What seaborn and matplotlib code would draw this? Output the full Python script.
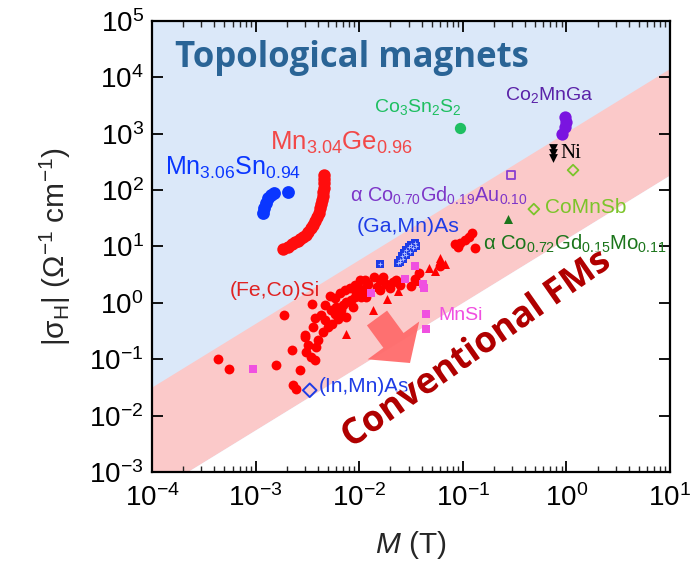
import numpy as np
import pandas as pd
import matplotlib
matplotlib.use("Agg")
import matplotlib.pyplot as plt
import matplotlib.patches as mpatches
import matplotlib.patheffects as pe
from matplotlib.ticker import LogLocator, NullLocator, NullFormatter
import seaborn as sns

# ---------------- data ----------------
mn3sn_M = [1.18e-3, 1.20e-3, 1.25e-3, 1.32e-3, 1.42e-3, 1.49e-3, 2.05e-3]
mn3sn_s = [39.6, 47.3, 59.6, 71.1, 81.5, 87.3, 93.4]

mn3ge_M = [1.84e-3, 2.04e-3, 2.26e-3, 2.42e-3, 2.56e-3, 2.70e-3, 2.87e-3, 3.04e-3,
           3.21e-3, 3.40e-3, 3.58e-3, 3.77e-3, 3.94e-3, 4.09e-3, 4.22e-3, 4.31e-3,
           4.41e-3, 4.48e-3, 4.51e-3, 4.54e-3, 4.57e-3, 4.61e-3, 4.61e-3]
mn3ge_s = [8.85, 9.86, 11.0, 11.8, 12.6, 13.7, 14.9, 16.3, 18.2, 20.9, 23.9, 28.2,
           33.6, 39.6, 47.3, 55.7, 66.4, 78.2, 93.4, 110, 131, 155, 185]

co3sn2s2_M = [0.095]
co3sn2s2_s = [1245]

co2mnga_M = [0.98, 1.0, 0.966, 0.912]
co2mnga_s = [2004, 1633, 1295, 986]

ni_M = [0.75, 0.75, 0.75]
ni_s = [550, 448, 365]

comnsb_M = [1.16, 0.485]
comnsb_s = [226, 46]

cogdau_M = [0.291]
cogdau_s = [185]

cogdmo_M = [0.274]
cogdmo_s = [30.6]

gamnas_M = [0.016, 0.0237, 0.0250, 0.0261, 0.0273, 0.0286, 0.0301, 0.0319, 0.0344,
            0.0356, 0.0331, 0.0308, 0.0286, 0.0265, 0.0246]
gamnas_s = [4.99, 5.20, 5.87, 6.73, 7.72, 8.61, 9.60, 10.6, 11.6,
            10.4, 9.33, 8.15, 7.01, 6.04, 5.27]

mnsi_M = [9.42e-4, 0.0131, 0.0275, 0.0344, 0.0414, 0.0423, 0.0439, 0.0446]
mnsi_s = [0.0682, 1.51, 2.70, 4.48, 2.20, 1.80, 0.629, 0.350]

inmnas_M = [3.33e-3]
inmnas_s = [0.0282]

tri_M = [7.41e-3, 0.0136, 0.0186, 0.0237, 0.0365, 0.0473, 0.0536, 0.0608, 0.0670]
tri_s = [0.286, 0.762, 1.18, 1.63, 2.46, 4.24, 3.70, 6.21, 4.99]

fecosi_M = [4.33e-4, 5.52e-4, 1.56e-3, 1.87e-3, 2.26e-3, 2.70e-3, 2.30e-3, 2.47e-3, 2.97e-3, 3.09e-3,
            3.45e-3, 3.72e-3, 3.58e-3, 3.53e-3, 4.31e-3, 4.64e-3, 5.19e-3, 5.38e-3, 5.51e-3, 5.80e-3,
            6.01e-3, 6.58e-3, 6.73e-3, 6.98e-3, 7.52e-3, 8.10e-3, 8.40e-3, 9.05e-3, 9.39e-3, 9.75e-3,
            0.0101, 0.0105, 0.0109, 0.0116, 0.0122, 0.0138, 0.0147, 0.0158, 0.0170, 0.0183,
            0.0197, 0.0212, 0.0229, 0.0246, 0.0319, 0.0344, 0.0378, 4.48e-3, 4.00e-3, 3.21e-3,
            3.85e-3, 5.00e-3, 6.24e-3, 8.71e-3, 7.52e-3, 0.0117, 0.0158, 0.0838, 0.0936, 0.104,
            0.115, 0.123, 0.131, 0.0901, 0.0608,
            4.64e-3, 5.80e-3, 7.24e-3, 3.72e-3, 9.05e-3, 0.0113, 2.97e-3, 6.49e-3]
fecosi_s = [0.103, 0.0682, 0.0782, 0.604, 0.144, 0.0638, 0.0345, 0.0301, 0.249, 0.135,
            0.110, 0.0959, 0.375, 0.946, 0.604, 0.492, 1.31, 0.741, 0.430, 0.647,
            0.849, 1.47, 0.741, 0.910, 1.04, 1.80, 1.11, 1.28, 1.57, 1.92,
            2.59, 1.28, 1.57, 1.80, 2.20, 2.90, 1.92, 2.52, 2.90, 2.20,
            1.80, 2.36, 2.52, 2.06, 1.98, 2.70, 3.32, 0.306, 0.217, 0.177,
            0.166, 0.375, 0.527, 0.849, 0.564, 1.28, 1.68, 11.0, 11.6, 12.9,
            14.9, 17.0, 9.47, 9.86, 4.48,
            0.910, 1.21, 1.68, 0.535, 2.06, 2.52, 0.267, 0.682]

# ---------------- style ----------------
sns.set_theme(style="ticks")
plt.rcParams["font.family"] = ["Liberation Sans", "DejaVu Sans"]
plt.rcParams["mathtext.fontset"] = "custom"
plt.rcParams["mathtext.rm"] = "Liberation Sans"
plt.rcParams["mathtext.it"] = "Liberation Sans:italic"
plt.rcParams["mathtext.bf"] = "Liberation Sans:bold"
plt.rcParams["axes.linewidth"] = 1.6

fig = plt.figure(figsize=(6.95, 5.66), dpi=100)
ax = fig.add_axes([0.2187, 0.166, 0.7453, 0.797])
ax.set_xscale("log")
ax.set_yscale("log")
ax.set_xlim(1e-4, 10)
ax.set_ylim(1e-3, 1e5)
ax.set_facecolor("#dbe8f9")

# pink band of conventional FMs
bx = np.array([1e-4, 10.0])
upper = 10 ** (1.13 * (np.log10(bx) - 1) + 4.16)
lower = 10 ** (1.13 * (np.log10(bx) - 1) + 2.27)
ax.fill_between(bx, lower, upper, color="#fbc9c9", lw=0, zorder=0)
ax.fill_between(bx, 1e-6, lower, color="white", lw=0, zorder=0)


def scat(M, s, marker, color, size, open_=False, lw=1.3, z=3):
    sns.scatterplot(x=M, y=s, ax=ax, marker=marker, s=size, color=color,
                    linewidth=0, zorder=z, legend=False)
    coll = ax.collections[-1]
    if open_:
        coll.set_facecolor("none")
        coll.set_edgecolor(color)
        coll.set_linewidth(lw)
    return coll


scat(fecosi_M, fecosi_s, "o", "#ff0000", 50)
scat(tri_M, tri_s, "^", "#ff0000", 42)
scat(mnsi_M, mnsi_s, "s", "#f050e0", 28)
scat(gamnas_M, gamnas_s, "s", "#1e3ce6", 26)
# checkered texture of the (Ga,Mn)As squares
tex = scat(gamnas_M, gamnas_s, "+", "#b9c6ff", 8, z=3.5)
tex.set_edgecolor("#b9c6ff")
tex.set_linewidth(0.6)
scat(inmnas_M, inmnas_s, "D", "#1e3ce6", 48, open_=True, lw=1.4)
scat(mn3sn_M, mn3sn_s, "o", "#0a36ff", 85)
scat(mn3ge_M, mn3ge_s, "o", "#ff0d0d", 80)
scat(co3sn2s2_M, co3sn2s2_s, "o", "#1fbf62", 66)
scat(co2mnga_M, co2mnga_s, "o", "#7a14e0", 78)
scat(ni_M, ni_s, "v", "#000000", 40)
scat(comnsb_M, comnsb_s, "D", "#7cc42a", 30, open_=True, lw=1.3)
scat(cogdau_M, cogdau_s, "s", "#8a3fd0", 28, open_=True, lw=1.3)
scat(cogdmo_M, cogdmo_s, "^", "#1b751b", 42)

# axes styling
ax.xaxis.set_major_locator(LogLocator(base=10, numticks=20))
ax.xaxis.set_minor_locator(LogLocator(base=10, subs=np.arange(2, 10), numticks=20))
ax.xaxis.set_minor_formatter(NullFormatter())
ax.yaxis.set_major_locator(LogLocator(base=10, numticks=20))
ax.yaxis.set_minor_locator(NullLocator())
ax.tick_params(which="major", direction="in", length=8, width=1.3, top=True, right=True,
               labelsize=20, colors="black")
ax.tick_params(axis="x", which="major", pad=9)
ax.tick_params(axis="y", which="major", pad=6)
ax.tick_params(which="minor", direction="in", length=4, width=1.0, top=True, right=True)
for sp in ax.spines.values():
    sp.set_color("black")
    sp.set_zorder(5)

ax.set_xlabel(r"$M$ (T)", fontsize=21.5, labelpad=12)
ax.set_ylabel(r"|σ$_{\rm H}$| (Ω$^{-1}$ cm$^{-1}$)", fontsize=21.5, labelpad=12)

# text annotations
T = ax.transAxes
ax.text(0.044, 0.899, "Topological magnets", transform=T, fontsize=25, fontweight="bold",
        family="Open Sans", color="#2a6496", va="baseline", zorder=6)
ax.text(0.025, 0.659, r"Mn$_{3.06}$Sn$_{0.94}$", transform=T, fontsize=18, color="#0a36ff",
        va="baseline")
ax.text(0.228, 0.714, r"Mn$_{3.04}$Ge$_{0.96}$", transform=T, fontsize=18.5, color="#f24848",
        va="baseline")
ax.text(0.429, 0.798, r"Co$_3$Sn$_2$S$_2$", transform=T, fontsize=14, color="#1fbf62",
        va="baseline")
ax.text(0.681, 0.825, r"Co$_2$MnGa", transform=T, fontsize=14, color="#5a22a8",
        va="baseline")
ax.text(0.788, 0.696, "Ni", transform=T, fontsize=15, color="black", family="Liberation Serif",
        va="baseline")
ax.text(0.759, 0.574, "CoMnSb", transform=T, fontsize=15, color="#7cc42a", va="baseline")
ax.text(0.382, 0.599, r"α Co$_{0.70}$Gd$_{0.19}$Au$_{0.10}$", transform=T, fontsize=14.3,
        color="#7d35c8", va="baseline")
ax.text(0.396, 0.532, "(Ga,Mn)As", transform=T, fontsize=15.3, color="#1e3ce6", va="baseline")
ax.text(0.639, 0.492, r"α Co$_{0.72}$Gd$_{0.15}$Mo$_{0.11}$", transform=T, fontsize=14.6,
        color="#1b751b", va="baseline", clip_on=True)
ax.text(0.151, 0.390, "(Fe,Co)Si", transform=T, fontsize=15.2, color="#e02222", va="baseline")
ax.text(0.552, 0.337, "MnSi", transform=T, fontsize=14, color="#f050e0", va="baseline")
ax.text(0.322, 0.177, "(In,Mn)As", transform=T, fontsize=15, color="#1e3ce6", va="baseline")

# big arrow pointing towards conventional FMs
arrow = mpatches.FancyArrow(3.77, 2.48, 0.33, -0.45, width=0.25, head_width=0.64,
                            head_length=0.28, length_includes_head=True,
                            transform=fig.dpi_scale_trans, color="#ff6b6b", alpha=0.95,
                            lw=0, zorder=6)
fig.patches.append(arrow)

ax.text(0.627, 0.272, "Conventional FMs", transform=T, fontsize=25.8, fontweight="bold",
        family="Open Sans", color="#b00000", rotation=35, ha="center", va="center", zorder=7,
        path_effects=[pe.withStroke(linewidth=3, foreground="white", alpha=0.6)])

fig.savefig("out.png", dpi=100)
